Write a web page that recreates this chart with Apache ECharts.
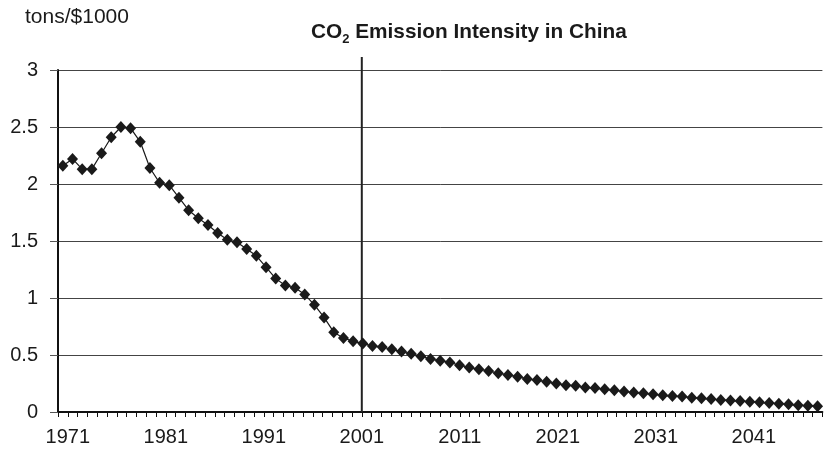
<!DOCTYPE html>
<html>
<head>
<meta charset="utf-8">
<script src="https://cdn.jsdelivr.net/npm/echarts@6/dist/echarts.min.js"></script>
<style>
html,body{margin:0;padding:0;background:#fff;}
#chart{width:827px;height:450px;}
</style>
</head>
<body>
<div id="chart"></div>
<script>
// ---- data ----
const years = [1971,1972,1973,1974,1975,1976,1977,1978,1979,1980,
  1981,1982,1983,1984,1985,1986,1987,1988,1989,1990,
  1991,1992,1993,1994,1995,1996,1997,1998,1999,2000,
  2001,2002,2003,2004,2005,2006,2007,2008,2009,2010,
  2011,2012,2013,2014,2015,2016,2017,2018,2019,2020,
  2021,2022,2023,2024,2025,2026,2027,2028,2029,2030,
  2031,2032,2033,2034,2035,2036,2037,2038,2039,2040,
  2041,2042,2043,2044,2045,2046,2047,2048,2049];
const intensity = [2.16,2.22,2.13,2.13,2.27,2.41,2.50,2.49,2.37,2.14,
  2.01,1.99,1.88,1.77,1.70,1.64,1.57,1.51,1.49,1.43,
  1.37,1.27,1.17,1.11,1.09,1.03,0.94,0.83,0.70,0.65,
  0.62,0.60,0.58,0.57,0.55,0.53,0.51,0.49,0.465,0.45,
  0.435,0.41,0.39,0.375,0.36,0.34,0.325,0.31,0.29,0.28,
  0.265,0.25,0.235,0.23,0.215,0.21,0.20,0.19,0.18,0.17,
  0.165,0.155,0.146,0.14,0.135,0.126,0.12,0.114,0.105,0.10,
  0.096,0.091,0.085,0.078,0.073,0.067,0.06,0.055,0.05];
const xTickLabels = ['1971','1981','1991','2001','2011','2021','2031','2041'];
const yTickLabels = ['0','0.5','1','1.5','2','2.5','3'];
const dividerYear = 2001;
const unitText = 'tons/$1000';

const FONT = '"Liberation Sans", Arial, Helvetica, sans-serif';
const chart = echarts.init(document.getElementById('chart'), null, {renderer: 'canvas'});

chart.setOption({
  animation: false,
  backgroundColor: '#ffffff',
  title: [
    {
      text: '{b|CO}{s|2}{b| Emission Intensity in China}',
      left: 311, top: 22,
      padding: 0,
      textStyle: {
        rich: {
          b: {fontFamily: FONT, fontWeight: 'bold', fontSize: 20.8, lineHeight: 24, color: '#1a1a1a', verticalAlign: 'top'},
          s: {fontFamily: FONT, fontWeight: 'bold', fontSize: 13, lineHeight: 13, color: '#1a1a1a', verticalAlign: 'bottom'}
        }
      }
    },
    {
      text: unitText,
      left: 25, top: 7,
      padding: 0,
      textStyle: {fontFamily: FONT, fontWeight: 'normal', fontSize: 21, color: '#1a1a1a'}
    }
  ],
  grid: {left: 58, right: 4.6, top: 70, bottom: 38, containLabel: false},
  xAxis: [
    {
      type: 'value',
      min: 1970, max: 2048, interval: 1,
      axisLine: {show: true, lineStyle: {color: '#111', width: 2}},
      axisTick: {show: true, length: 5, lineStyle: {color: '#111', width: 1}},
      splitLine: {show: false},
      axisLabel: {
        margin: 15,
        fontFamily: FONT, fontSize: 20, color: '#1a1a1a',
        showMinLabel: true, showMaxLabel: true,
        formatter: function (v) {
          const s = String(Math.round(v));
          return xTickLabels.indexOf(s) >= 0 ? s : '';
        }
      }
    },
    {
      type: 'category',
      data: years.map(String),
      boundaryGap: true,
      show: false
    }
  ],
  yAxis: {
    type: 'value',
    min: 0, max: 3, interval: 0.5,
    axisLine: {show: true, lineStyle: {color: '#111', width: 2}},
    axisTick: {show: true, length: 8, lineStyle: {color: '#555', width: 1}},
    splitLine: {show: true, lineStyle: {color: '#444', width: 1}},
    axisLabel: {
      margin: 20,
      fontFamily: FONT, fontSize: 20, color: '#1a1a1a',
      formatter: function (v) {
        const idx = Math.round(v / 0.5);
        return yTickLabels[idx] !== undefined ? yTickLabels[idx] : '';
      }
    }
  },
  series: [
    {
      type: 'line',
      xAxisIndex: 1,
      yAxisIndex: 0,
      data: intensity,
      symbol: 'diamond',
      symbolSize: [11, 12],
      showAllSymbol: true,
      lineStyle: {color: '#1a1a1a', width: 1.2},
      itemStyle: {color: '#1a1a1a'},
      z: 3
    }
  ]
});

// vertical divider line at dividerYear, derived from the visible axis scale
const px = chart.convertToPixel({xAxisIndex: 0}, dividerYear);
const yBottom = chart.convertToPixel({yAxisIndex: 0}, 0);
const yTop = chart.convertToPixel({yAxisIndex: 0}, 3) - 13;
chart.setOption({
  graphic: [{
    type: 'line',
    shape: {x1: px, y1: yTop, x2: px, y2: yBottom},
    style: {stroke: '#222', lineWidth: 2},
    z: 2
  }]
});
</script>
</body>
</html>
